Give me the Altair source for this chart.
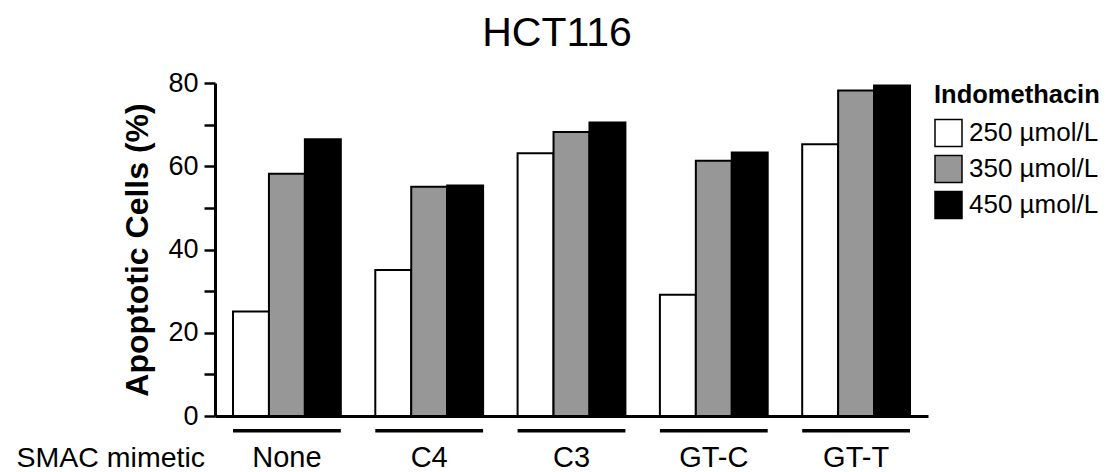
import altair as alt
import pandas as pd

groups = ["None", "C4", "C3", "GT-C", "GT-T"]
doses = ["250 µmol/L", "350 µmol/L", "450 µmol/L"]
v250 = [25.1, 35.1, 63.1, 29.1, 65.3]
v350 = [58.2, 55.1, 68.2, 61.3, 78.2]
v450 = [66.5, 55.4, 70.5, 63.3, 79.4]
colors = ["#ffffff", "#979797", "#000000"]
y_ticks = [0, 10, 20, 30, 40, 50, 60, 70, 80]
title_text = "HCT116"
x_axis_label = "SMAC mimetic"

rows = []
for d, vals in zip(doses, [v250, v350, v450]):
    for g, v in zip(groups, vals):
        rows.append({"group": g, "dose": d, "value": v})
df = pd.DataFrame(rows)
gdf = pd.DataFrame({"group": groups})
ldf = pd.DataFrame({"t": [x_axis_label]})
tdf = pd.DataFrame({"t": [title_text]})

FONT = "Liberation Sans"

xscale = alt.Scale(domain=groups, paddingInner=0.2424, paddingOuter=0.1265)

bars = alt.Chart(df).mark_bar(stroke="black", strokeWidth=2).encode(
    x=alt.X("group:N", scale=xscale, sort=groups,
            axis=alt.Axis(title=None, labels=False, ticks=False, tickSize=0,
                          domainColor="black", domainWidth=3)),
    xOffset=alt.XOffset("dose:N", sort=doses, scale=alt.Scale(paddingInner=0, paddingOuter=0)),
    y=alt.Y("value:Q", scale=alt.Scale(domain=[0, 80]),
            axis=alt.Axis(title="Apoptotic Cells (%)", values=y_ticks,
                          labelExpr="datum.value % 20 == 0 ? datum.label : ''",
                          labelFontSize=27, labelFont=FONT, labelColor="black", labelPadding=6,
                          tickSize=11, tickWidth=2.5, tickColor="black",
                          domainColor="black", domainWidth=3, grid=False,
                          titleFont=FONT, titleFontSize=32, titleFontWeight="bold",
                          titleColor="black", titleX=-78, titleY=166.5, titleBaseline="middle")),
    fill=alt.Fill("dose:N", sort=doses, scale=alt.Scale(domain=doses, range=colors),
                  legend=alt.Legend(title="Indomethacin", orient="none", legendX=719, legendY=0,
                                    titleFont=FONT, titleFontSize=25.5, titleFontWeight="bold",
                                    titleColor="black", titlePadding=10,
                                    labelFont=FONT, labelFontSize=26, labelColor="black",
                                    labelOffset=6,
                                    symbolType="square", symbolSize=729,
                                    symbolStrokeColor="black", symbolStrokeWidth=1.5,
                                    rowPadding=3)),
)

underline = alt.Chart(gdf).mark_bar(color="black").encode(
    x=alt.X("group:N", scale=xscale, sort=groups),
    y=alt.value(346),
    y2=alt.value(349.5),
)

glabels = alt.Chart(gdf).mark_text(font=FONT, fontSize=29, align="center", baseline="alphabetic",
                                   color="black").encode(
    x=alt.X("group:N", scale=xscale, sort=groups),
    text="group:N",
    y=alt.value(384),
)

smac = alt.Chart(ldf).mark_text(font=FONT, fontSize=28.5, align="right", baseline="alphabetic",
                                color="black").encode(
    text="t:N", x=alt.value(-10), y=alt.value(384)
)

ttl = alt.Chart(tdf).mark_text(font=FONT, fontSize=41, align="center", baseline="alphabetic",
                               color="black").encode(
    text="t:N", x=alt.value(342), y=alt.value(-36.6)
)

chart = alt.layer(bars, underline, glabels, smac, ttl).properties(
    width=713, height=333,
    background="white",
    autosize=alt.AutoSizeParams(type="none"),
    padding={"left": 207, "top": 75, "right": 175, "bottom": 56},
).configure_view(stroke=None)

chart.save("out.html", embed_options={"renderer": "svg", "actions": False})
